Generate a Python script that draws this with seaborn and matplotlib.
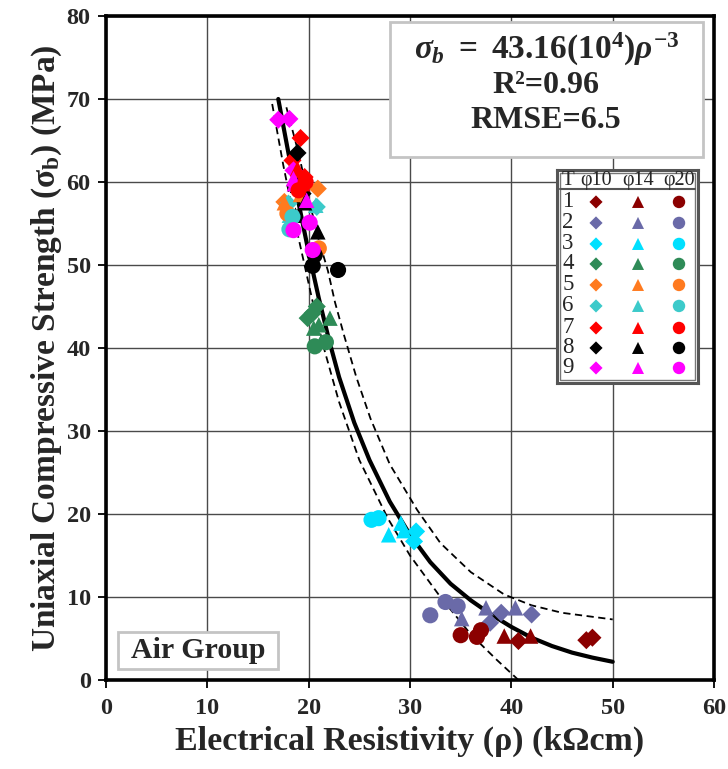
import matplotlib
matplotlib.use("Agg")
import matplotlib.pyplot as plt
import matplotlib.patches as mpatches
import seaborn as sns
import pandas as pd

# ---------------- data ----------------
groups = ["1", "2", "3", "4", "5", "6", "7", "8", "9"]
group_colors = ["#8B0000", "#6A6AA8", "#00E0FF", "#2E8B57", "#FF7A1F",
                "#3CCACA", "#FF0000", "#000000", "#FF00FF"]
diameters = ["φ10", "φ14", "φ20"]

# resistivity (kOhm cm) per group, for each bar diameter
rho_phi10 = [[40.7, 47.4, 48.0], [37.9, 39.0, 42.0], [30.6, 30.4], [20.8, 19.9, 20.4],
             [20.9, 17.6], [20.8, 18.0], [19.2, 18.4, 19.6], [18.9, 19.4], [17.0, 18.1, 18.5]]
sig_phi10 = [[4.7, 4.8, 5.1], [6.9, 8.1, 7.9], [17.9, 16.7], [45.0, 43.6, 44.2],
             [59.2, 57.6], [57.0, 57.4], [65.3, 62.6, 60.6], [63.5, 58.6], [67.5, 67.6, 61.4]]
rho_phi14 = [[39.3, 41.9], [35.1, 37.5, 40.4], [27.9, 29.1, 29.4], [21.0, 22.1, 20.5],
             [17.6, 19.2], [20.7, 18.1], [19.4, 18.9], [18.9, 18.7, 20.9, 19.6], [18.5, 19.8, 18.6]]
sig_phi14 = [[5.3, 5.3], [7.4, 8.7, 8.7], [17.5, 18.9, 18.0], [42.8, 43.6, 42.4],
             [57.5, 58.5], [57.2, 56.0], [59.8, 61.6], [59.6, 56.0, 54.0, 57.5], [60.4, 57.8, 59.8]]
rho_phi20 = [[35.0, 36.6, 37.0], [32.0, 33.5, 34.7], [26.2, 26.9], [20.6, 21.7],
             [17.9, 21.0], [18.1, 18.4], [19.7, 19.0], [20.4, 22.9, 20.6], [18.5, 20.1, 20.4]]
sig_phi20 = [[5.4, 5.2, 6.0], [7.8, 9.4, 8.9], [19.3, 19.5], [40.2, 40.7],
             [56.2, 52.0], [54.3, 55.8], [60.0, 59.0], [49.9, 49.4, 51.2], [54.2, 55.1, 51.8]]

# fitted curve and bounds
fit_rho = [17.0, 18.0, 19.0, 20.0, 21.0, 22.0, 23.0, 24.5, 26.0, 28.0, 30.0, 32.0,
           34.0, 36.0, 38.0, 40.0, 42.0, 44.0, 46.0, 48.0, 50.0]
fit_sig = [70.0, 63.5, 57.5, 51.5, 46.0, 41.0, 36.5, 31.0, 26.5, 21.5, 17.5, 14.2,
           11.6, 9.6, 7.9, 6.4, 5.1, 4.1, 3.3, 2.7, 2.2]
up_rho = [17.8, 19.0, 20.0, 21.0, 21.9, 22.6, 23.5, 24.7, 26.1, 28.0, 30.7, 33.0,
          36.0, 39.3, 42.0, 45.0, 50.0]
up_sig = [69.0, 63.5, 58.0, 53.0, 49.3, 45.5, 41.5, 36.5, 31.5, 26.0, 20.5, 16.5,
          13.0, 10.3, 9.0, 8.1, 7.3]
lo_rho = [16.4, 17.5, 18.5, 19.5, 20.5, 21.5, 23.0, 25.0, 27.8, 30.0, 33.0, 36.0, 38.5, 40.7]
lo_sig = [69.4, 62.0, 56.0, 50.5, 45.0, 40.0, 33.5, 26.5, 19.5, 15.0, 10.0, 5.5, 2.5, 0.0]

x_ticks = [0, 10, 20, 30, 40, 50, 60]
y_ticks = [0, 10, 20, 30, 40, 50, 60, 70, 80]

# ---------------- build table ----------------
rows = []
for dia, R, S in zip(diameters, [rho_phi10, rho_phi14, rho_phi20], [sig_phi10, sig_phi14, sig_phi20]):
    for g, rr, ss in zip(groups, R, S):
        for r, s in zip(rr, ss):
            rows.append({"T": g, "dia": dia, "rho": r, "sigma": s})
df = pd.DataFrame(rows)

# ---------------- style ----------------
sns.set_theme(style="white")
plt.rcParams["font.family"] = ["Liberation Serif", "DejaVu Serif"]
plt.rcParams["mathtext.fontset"] = "custom"
plt.rcParams["mathtext.rm"] = "Liberation Serif:bold"
plt.rcParams["mathtext.bf"] = "Liberation Serif:bold"
plt.rcParams["mathtext.it"] = "Liberation Serif:italic:bold"

fig = plt.figure(figsize=(7.28, 7.69), dpi=100)
ax = fig.add_axes([0.1456, 0.1157, 0.8352, 0.8635])

ax.grid(True, color="#4a4a4a", linewidth=1.0)
ax.set_axisbelow(True)

palette = dict(zip(groups, group_colors))
markers = {"φ10": "D", "φ14": "^", "φ20": "o"}
sizes = {"φ10": 85, "φ14": 125, "φ20": 135}

sns.lineplot(x=lo_rho, y=lo_sig, ax=ax, color="black", linewidth=1.3,
             linestyle=(0, (4, 2.5)), sort=False, zorder=2)
sns.lineplot(x=up_rho, y=up_sig, ax=ax, color="black", linewidth=1.3,
             linestyle=(0, (4, 2.5)), sort=False, zorder=2)
sns.lineplot(x=fit_rho, y=fit_sig, ax=ax, color="black", linewidth=3.0,
             sort=False, zorder=2)

sns.scatterplot(data=df, x="rho", y="sigma", hue="T", style="dia", size="dia",
                palette=palette, markers=markers, sizes=sizes, hue_order=groups,
                style_order=diameters, size_order=diameters,
                edgecolor="none", linewidth=0, legend=False, ax=ax, zorder=3)

ax.set_xlim(0, 60)
ax.set_ylim(0, 80)
ax.set_xticks(x_ticks)
ax.set_yticks(y_ticks)
ax.set_xticklabels([str(t) for t in x_ticks], fontsize=17.5, fontweight="bold")
ax.set_yticklabels([str(t) for t in y_ticks], fontsize=17.5, fontweight="bold")
ax.tick_params(axis="x", direction="out", length=6, width=1.3, color="black",
               bottom=True, pad=7)
ax.tick_params(axis="y", direction="out", length=6, width=1.3, color="black",
               left=True, pad=5)
for sp in ax.spines.values():
    sp.set_linewidth(2.6)
    sp.set_color("black")

ax.set_xlabel("Electrical Resistivity (ρ) (kΩcm)", fontsize=24.5, fontweight="bold", labelpad=5)
ax.set_ylabel(r"Uniaxial Compressive Strength (σ$_\mathregular{b}$) (MPa)", fontsize=24,
              fontweight="bold", labelpad=2)

# equation box
eq_box = mpatches.Rectangle((0.467, 0.788), 0.515, 0.203, transform=ax.transAxes,
                            facecolor="white", edgecolor="#c4c4c4", linewidth=2, zorder=5)
ax.add_patch(eq_box)
ax.text(0.724, 0.950, r"$\sigma_b\ =\ \mathrm{43.16(10^4)}\rho^{\mathrm{-3}}$",
        transform=ax.transAxes, ha="center", va="center", fontsize=24, zorder=6)
ax.text(0.724, 0.896, "R²=0.96", transform=ax.transAxes, ha="center", va="center",
        fontsize=23, fontweight="bold", zorder=6)
ax.text(0.724, 0.843, "RMSE=6.5", transform=ax.transAxes, ha="center", va="center",
        fontsize=23, fontweight="bold", zorder=6)

# Air Group box
air_box = mpatches.Rectangle((0.0197, 0.0166), 0.2633, 0.0557, transform=ax.transAxes,
                             facecolor="white", edgecolor="#c4c4c4", linewidth=2, zorder=5)
ax.add_patch(air_box)
ax.text(0.151, 0.0445, "Air Group", transform=ax.transAxes, ha="center", va="center",
        fontsize=21.5, fontweight="bold", zorder=6)

# legend table
lax = fig.add_axes([0.7651, 0.5020, 0.1937, 0.2770])
lax.set_xlim(0, 141)
lax.set_ylim(213, 0)
lax.set_xticks([])
lax.set_yticks([])
lax.set_facecolor("white")
for sp in lax.spines.values():
    sp.set_linewidth(2.2)
    sp.set_color("#555555")
lax.add_patch(mpatches.Rectangle((3, 3), 135, 207, facecolor="none", edgecolor="#777777",
                                 linewidth=1.0))
lax.plot([3, 138], [19, 19], color="#555555", linewidth=1.5)
col_x = [39, 81, 122]
row_y = [32, 53, 74, 94, 115, 136, 158, 178, 198]
lax.text(11, 11, "T", ha="center", va="center", fontsize=15)
for cx, d in zip(col_x, diameters):
    lax.text(cx, 11, d, ha="center", va="center", fontsize=14.5)
leg_rows = []
for g, ry in zip(groups, row_y):
    lax.text(11, ry, g, ha="center", va="center", fontsize=16.5)
    for cx, d in zip(col_x, diameters):
        leg_rows.append({"x": cx, "y": ry, "T": g, "dia": d})
ldf = pd.DataFrame(leg_rows)
sns.scatterplot(data=ldf, x="x", y="y", hue="T", style="dia", size="dia", palette=palette,
                markers=markers, sizes={"φ10": 45, "φ14": 75, "φ20": 80}, hue_order=groups,
                style_order=diameters, size_order=diameters, edgecolor="none",
                linewidth=0, legend=False, ax=lax)
lax.set_xlabel("")
lax.set_ylabel("")

fig.savefig("out.png", dpi=100)
